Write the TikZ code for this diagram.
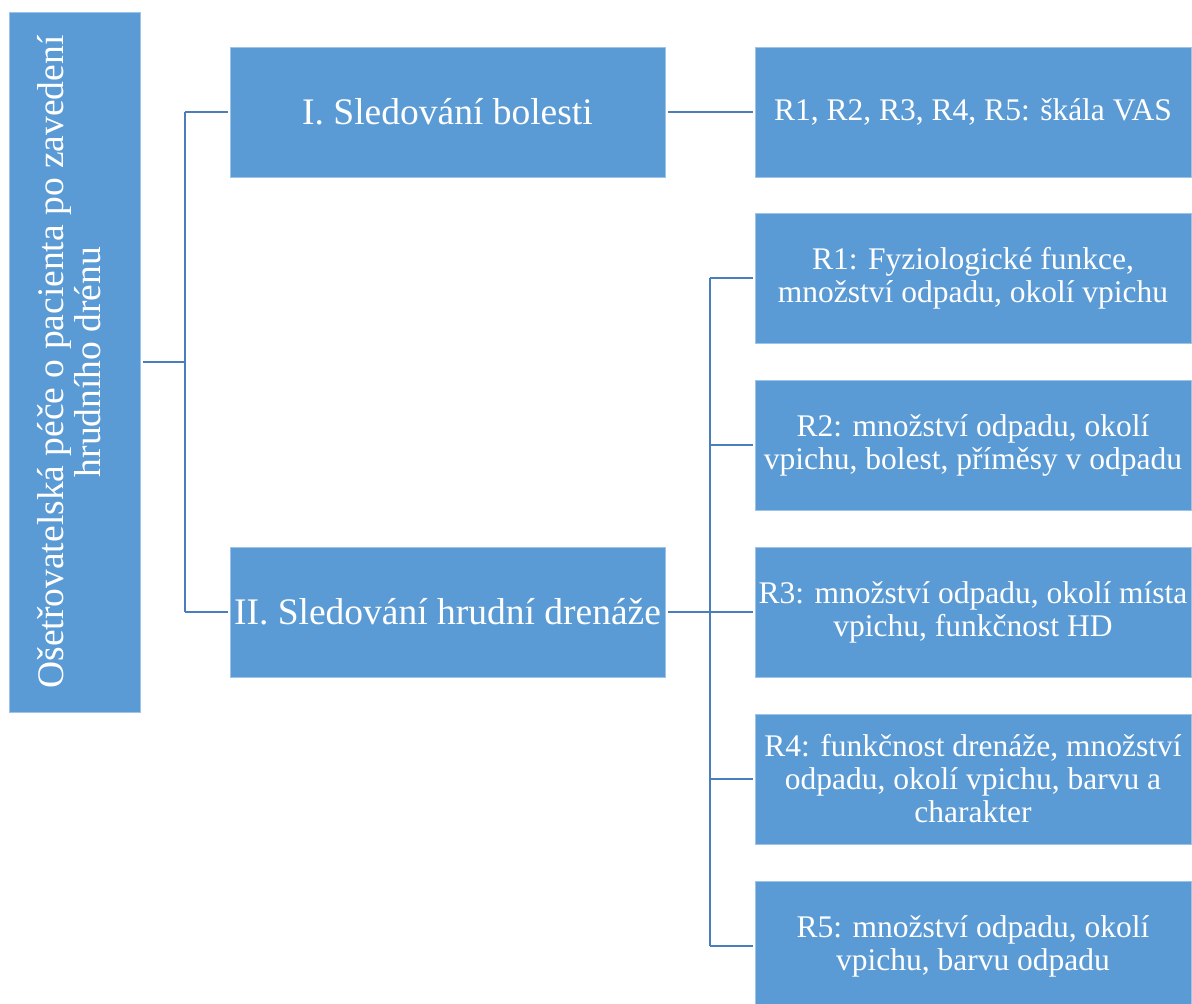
\documentclass[tikz,border=0pt]{standalone}
\usepackage{fontspec}
\setmainfont{Liberation Serif}
\definecolor{boxblue}{HTML}{5B9BD5}
\definecolor{lineblue}{HTML}{4A7EBB}
\begin{document}
\begin{tikzpicture}[x=1pt,y=-1pt,
  box/.style={fill=boxblue, draw=boxblue!60!white, line width=0.8pt, text=white, inner sep=0pt,
    align=center},
  leafbox/.style={box, minimum width=436, minimum height=130, font=\fontsize{31.5}{33}\selectfont},
  midbox/.style={box, minimum width=435, minimum height=130, font=\fontsize{37.5}{40}\selectfont},
  conn/.style={draw=lineblue, line width=2.5pt}]
\clip (0,0) rectangle (1192,1004);
\fill[white] (0,0) rectangle (1192,1004);
% root
\node[box, minimum width=131, minimum height=700, font=\fontsize{37.5}{37}\selectfont] (root) at (74.5,362)
  {\rotatebox{90}{\begin{tabular}{@{}c@{}}Ošetřovatelská péče o pacienta po zavedení\\ hrudního drénu\end{tabular}}};
% level 1
\node[midbox] (I) at (447.5,112) {I. Sledování bolesti};
\node[midbox] (II) at (447.5,612) {II. Sledování hrudní drenáže};
% level 2
\node[leafbox] (VAS) at (973,112) {R1, R2, R3, R4, R5: škála VAS};
\node[leafbox] (R1) at (973,278) {R1: Fyziologické funkce,\\ množství odpadu, okolí vpichu};
\node[leafbox] (R2) at (973,445) {R2: množství odpadu, okolí\\ vpichu, bolest, příměsy v odpadu};
\node[leafbox] (R3) at (973,612) {R3: množství odpadu, okolí místa\\ vpichu, funkčnost HD};
\node[leafbox] (R4) at (973,779) {R4: funkčnost drenáže, množství\\ odpadu, okolí vpichu, barvu a\\ charakter};
\node[leafbox] (R5) at (973,946) {R5: množství odpadu, okolí\\ vpichu, barvu odpadu};
% connectors
\coordinate (t1) at (185,362);
\coordinate (t2) at (710,612);
\draw[conn] ([xshift=3pt]root.east) -- (t1);
\draw[conn] (t1 |- I.west) -- ([xshift=-2pt]I.west);
\draw[conn] (t1 |- II.west) -- ([xshift=-2pt]II.west);
\draw[conn] (t1 |- I.west) -- (t1 |- II.west);
\draw[conn] ([xshift=3pt]I.east) -- ([xshift=-2pt]VAS.west);
\draw[conn] ([xshift=3pt]II.east) -- ([xshift=-2pt]R3.west);
\draw[conn] (t2 |- R1.west) -- (t2 |- R5.west);
\foreach \r in {R1,R2,R4,R5}{
  \draw[conn] (t2 |- \r.west) -- ([xshift=-2pt]\r.west);
}
\end{tikzpicture}
\end{document}
